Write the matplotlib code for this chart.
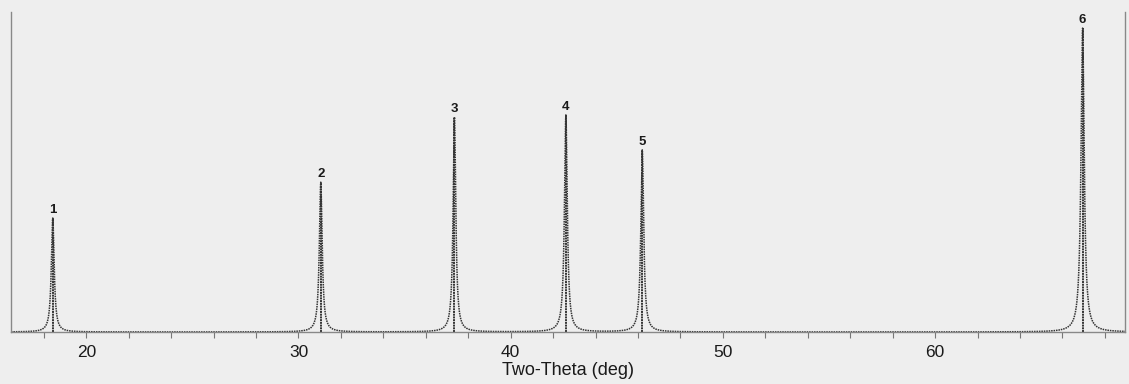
import numpy as np
import matplotlib.pyplot as plt
from matplotlib.ticker import MultipleLocator

# peak positions (2-theta, deg) and relative heights
peak_labels = ["1", "2", "3", "4", "5", "6"]
peak_pos = [18.42, 31.05, 37.35, 42.6, 46.2, 66.95]
peak_height = [37.5, 49.3, 70.7, 71.4, 59.9, 100.0]
peak_fwhm = [0.16, 0.16, 0.15, 0.16, 0.16, 0.18]

x_range = (16.45, 68.95)
y_top = 105.3

plt.rcParams['font.family'] = ['Liberation Sans', 'DejaVu Sans']

fig = plt.figure(figsize=(11.29, 3.84), dpi=100)
fig.patch.set_facecolor('#eeeeee')
ax = fig.add_axes([0.0097, 0.1354, 0.9868, 0.8333])
ax.set_facecolor('#eeeeee')

x = np.linspace(x_range[0], x_range[1], 20000)
y = np.zeros_like(x)
for pos, h, w in zip(peak_pos, peak_height, peak_fwhm):
    g = w / 2.0
    y += h * g**2 / ((x - pos)**2 + g**2)
ax.plot(x, y, color='#333333', lw=1.1, ls=(0, (1, 0.6)))

# dotted centre line of each reflection, number above it
for lab, pos, h in zip(peak_labels, peak_pos, peak_height):
    ax.vlines(pos, 0, h, color='#333333', lw=1.4, ls=(0, (1, 0.4)))
    ax.annotate(lab, (pos, h), xytext=(0, 1.5), textcoords='offset points',
                ha='center', va='bottom', fontsize=9.5, fontweight='bold', color='#1a1a1a')

ax.set_xlim(*x_range)
ax.set_ylim(0, y_top)

ax.spines['top'].set_visible(False)
for side in ['left', 'right', 'bottom']:
    ax.spines[side].set_color('#888888')
    ax.spines[side].set_linestyle((0, (1, 1)))
    ax.spines[side].set_linewidth(1.0)

ax.set_yticks([])
ax.xaxis.set_major_locator(MultipleLocator(10))
ax.xaxis.set_minor_locator(MultipleLocator(2))
ax.tick_params(axis='x', which='both', direction='out', color='#777777', width=0.8,
               length=4, labelsize=12.5, labelcolor='#1a1a1a', pad=5)
ax.set_xlabel("Two-Theta (deg)", fontsize=13, color='#1a1a1a', labelpad=2)

fig.savefig("out.png", dpi=100, facecolor=fig.get_facecolor())
